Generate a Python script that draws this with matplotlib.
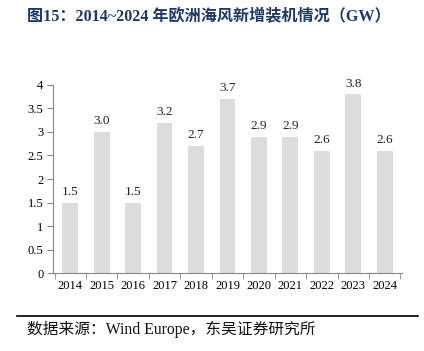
import matplotlib
matplotlib.use("Agg")
import matplotlib.pyplot as plt
import numpy as np

years = ["2014", "2015", "2016", "2017", "2018", "2019", "2020", "2021", "2022", "2023", "2024"]
values = [1.5, 3.0, 1.5, 3.2, 2.7, 3.7, 2.9, 2.9, 2.6, 3.8, 2.6]
labels = ["1.5", "3.0", "1.5", "3.2", "2.7", "3.7", "2.9", "2.9", "2.6", "3.8", "2.6"]
yticks = [0, 0.5, 1, 1.5, 2, 2.5, 3, 3.5, 4]
ytick_labels = ["0", "0.5", "1", "1.5", "2", "2.5", "3", "3.5", "4"]

fam = ["Liberation Serif", "Noto Sans CJK SC"]
plt.rcParams['font.family'] = fam

fig = plt.figure(figsize=(4.24, 3.51), dpi=100)
ax = fig.add_axes([0.125, 0.222, 0.823, 0.536])
x = np.arange(len(years))
ax.bar(x, values, width=0.5, color="#DCDCDC", zorder=2)
for xi, v, l in zip(x, values, labels):
    ax.text(xi, v + 0.1, l, ha="center", va="bottom", fontsize=9.5, color="#222222")

ax.set_xlim(-0.55, len(years) - 0.45)
ax.set_ylim(0, 4)
ax.set_yticks(yticks)
ax.set_yticklabels(ytick_labels, fontsize=9)
ax.set_xticks(x)
ax.set_xticklabels(years, fontsize=9)
ax.tick_params(axis="x", length=0, pad=5)
ax.set_xticks(np.arange(-0.5, len(years), 1), minor=True)
ax.tick_params(axis="x", which="minor", length=4, color="#888888", direction="out")
ax.tick_params(axis="y", length=4, color="#888888", pad=3)
for s in ["top", "right"]:
    ax.spines[s].set_visible(False)
for s in ["left", "bottom"]:
    ax.spines[s].set_color("#888888")
    ax.spines[s].set_linewidth(0.8)

fig.text(0.064, 0.951, "图15：2014~2024 年欧洲海风新增装机情况（GW）", fontsize=11.6,
         fontweight="bold", color="#1F3864", ha="left", va="center",
         family=["Liberation Serif", "Noto Sans CJK SC"])
fig.add_artist(plt.Line2D([0.04, 0.986], [0.10, 0.10], color="black", lw=1.2))
fig.text(0.064, 0.062, "数据来源：Wind Europe，东吴证券研究所", fontsize=11.3,
         color="#111111", ha="left", va="center",
         family=["Liberation Serif", "Noto Sans CJK SC"])

fig.savefig("out.png", dpi=100)
